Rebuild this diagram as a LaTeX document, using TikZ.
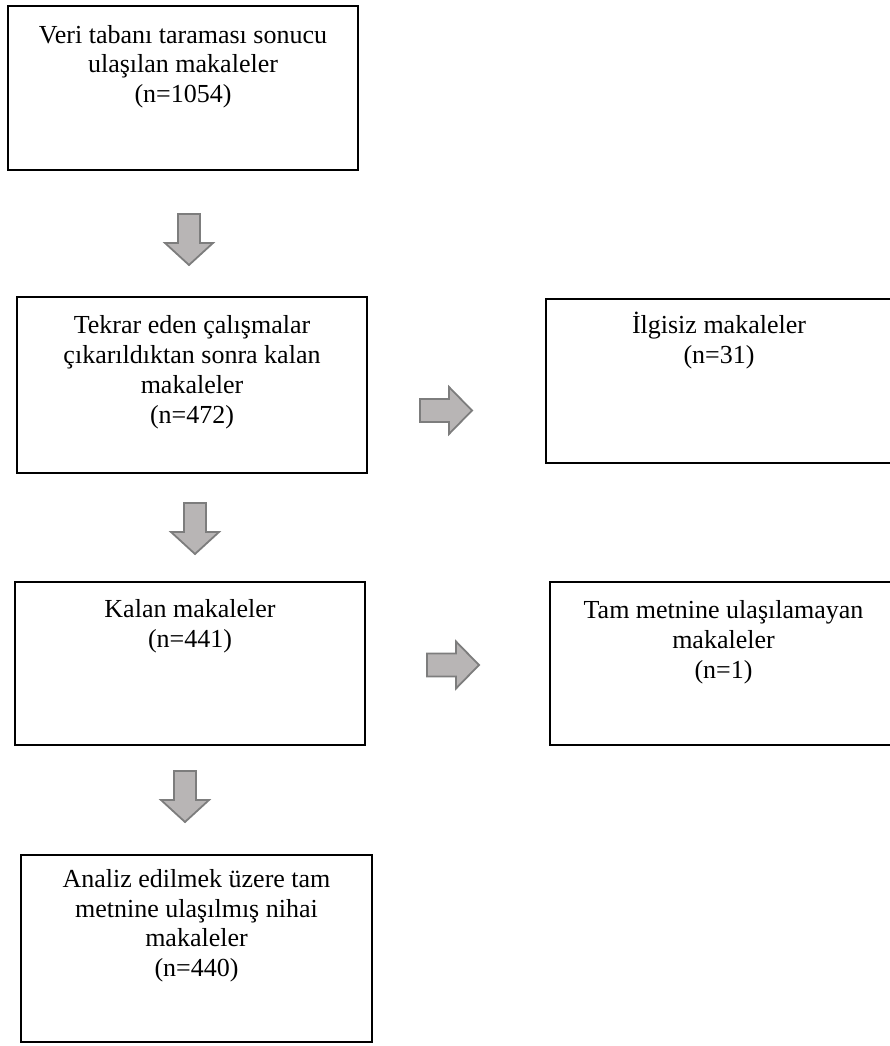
\documentclass[tikz,border=0pt]{standalone}
\usepackage{fontspec}
\setmainfont{Liberation Serif}
\definecolor{arrfill}{RGB}{184,181,181}
\definecolor{arrdraw}{RGB}{125,125,125}
\tikzset{
  x=1pt, y=-1pt,
  box/.style={draw=black, line width=1.8pt, inner sep=0pt, fill=none},
  txt/.style={align=center, inner sep=0pt, anchor=north,
    font=\fontsize{26}{29.8}\selectfont},
  blk/.style={fill=arrfill, draw=arrdraw, line width=1.8pt, line join=miter},
  downarr/.pic={\draw[blk] (-11,0) -- (11,0) -- (11,29) -- (24,29) -- (0,51) -- (-24,29) -- (-11,29) -- cycle;},
  rightarr/.pic={\draw[blk] (0,-11.5) -- (29,-11.5) -- (29,-23.5) -- (52,0) -- (29,23.5) -- (29,11.5) -- (0,11.5) -- cycle;}
}
\newcommand{\fs}{\rule{0pt}{24pt}}
\begin{document}
\begin{tikzpicture}
\useasboundingbox (0,0) rectangle (890,1046);
% boxes
\node[box, minimum width=350pt, minimum height=164pt] (b1) at (183,88) {};
\node[box, minimum width=350pt, minimum height=176pt] (b2) at (192,385) {};
\node[box, minimum width=346pt, minimum height=164pt] (b3) at (719,381) {};
\node[box, minimum width=350pt, minimum height=163pt] (b4) at (190,663.5) {};
\node[box, minimum width=347pt, minimum height=163pt] (b5) at (723.5,663.5) {};
\node[box, minimum width=351pt, minimum height=187pt] (b6) at (196.5,948.5) {};
% texts (north = first baseline - 24)
\node[txt] (t1) at (183,19) {\fs Veri tabanı taraması sonucu\\ulaşılan makaleler\\(n=1054)};
\node[txt] (t2) at (192,309.5) {\fs Tekrar eden çalışmalar\\çıkarıldıktan sonra kalan\\makaleler\\(n=472)};
\node[txt] (t3) at (719,309) {\fs İlgisiz makaleler\\(n=31)};
\node[txt] (t4) at (190,593.5) {\fs Kalan makaleler\\(n=441)};
\node[txt] (t5) at (723.5,594.5) {\fs Tam metnine ulaşılamayan\\makaleler\\(n=1)};
\node[txt] (t6) at (196.5,863) {\fs Analiz edilmek üzere tam\\metnine ulaşılmış nihai\\makaleler\\(n=440)};
% block arrows
\pic (a1) at (189,214) {downarr};
\pic (a2) at (195,503) {downarr};
\pic (a3) at (185,771) {downarr};
\pic (r1) at (420,410.5) {rightarr};
\pic (r2) at (427,665) {rightarr};
\end{tikzpicture}
\end{document}
